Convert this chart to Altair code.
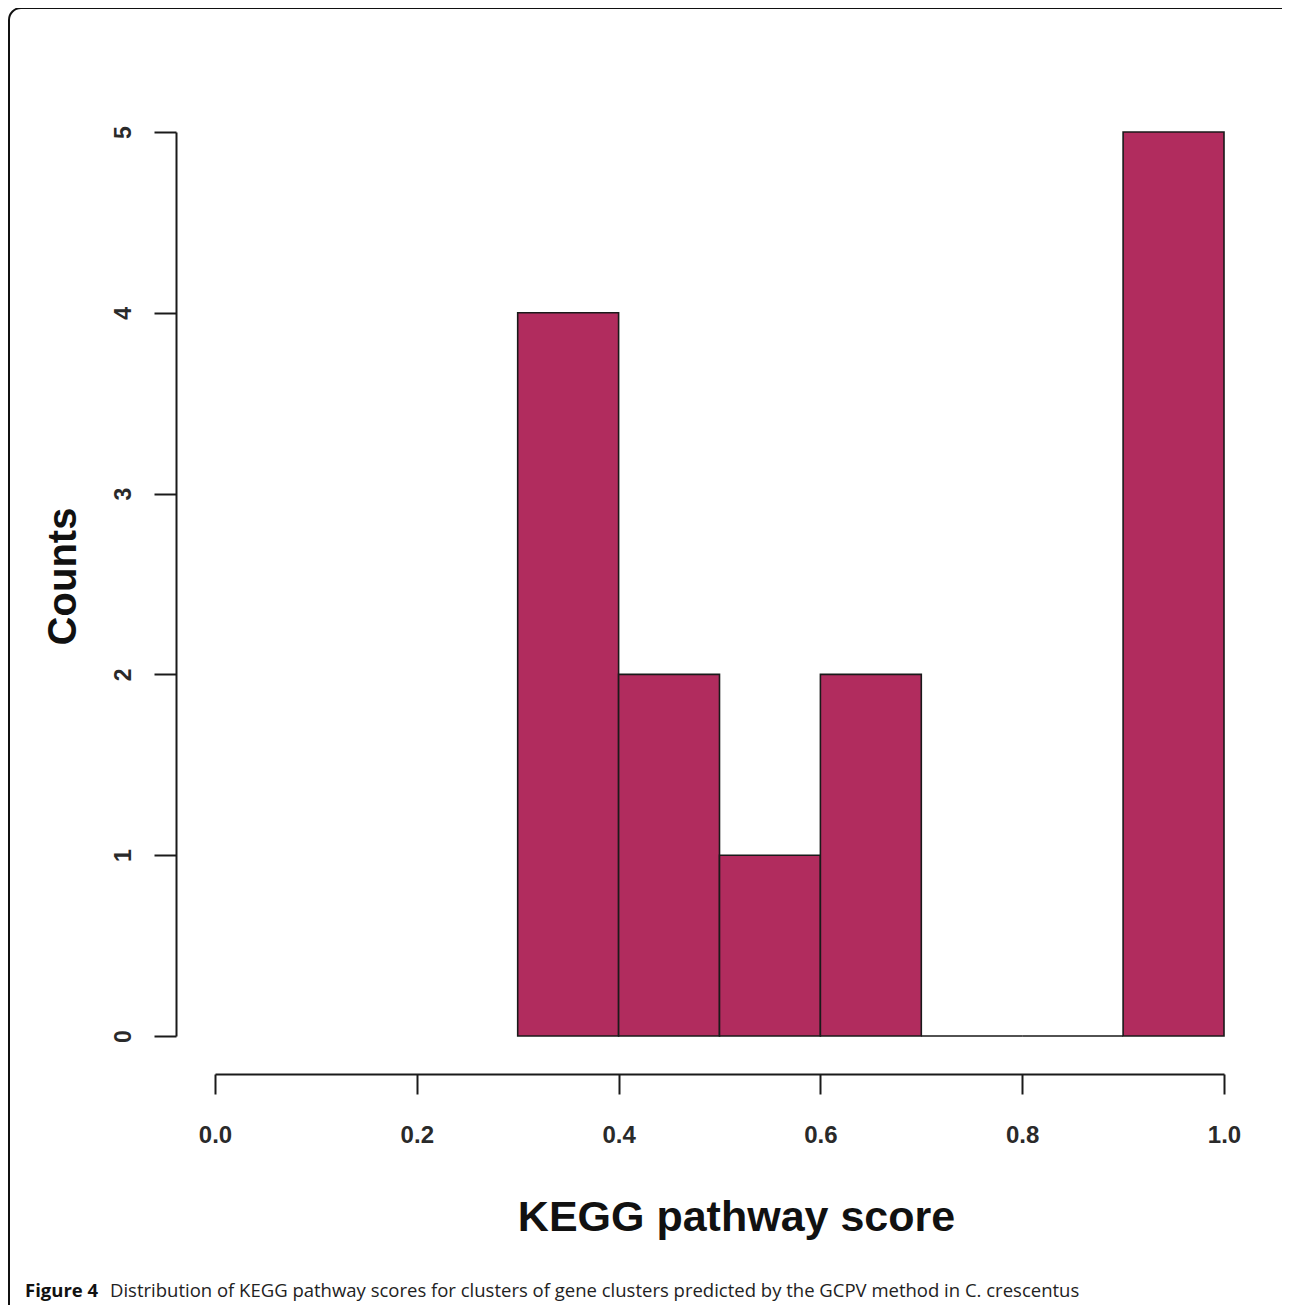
import altair as alt
import pandas as pd

# Histogram data (KEGG pathway score bins)
bin_start = [0.3, 0.4, 0.5, 0.6, 0.7, 0.8, 0.9]
bin_end = [0.4, 0.5, 0.6, 0.7, 0.8, 0.9, 1.0]
counts = [4, 2, 1, 2, 0, 0, 5]

x_ticks = [0.0, 0.2, 0.4, 0.6, 0.8, 1.0]
y_ticks = [0, 1, 2, 3, 4, 5]

caption_bold = "Figure 4"
caption_text = ("Distribution of KEGG pathway scores for clusters of gene clusters "
                "predicted by the GCPV method in C. crescentus")

df = pd.DataFrame({"start": bin_start, "end": bin_end, "count": counts})

W, H = 1009, 904
# total svg: 1274 x 1297 (fits inside the 1290x1313 window with 8px margins)
PAD = {"left": 207, "top": 124, "right": 58, "bottom": 269}

xscale = alt.Scale(domain=[0, 1], nice=False, zero=False)
yscale = alt.Scale(domain=[0, 5], nice=False)

bars = alt.Chart(df).mark_rect(
    fill="#B12C5E", stroke="#1a1a1a", strokeWidth=1.6
).encode(
    x=alt.X("start:Q", scale=xscale, axis=alt.Axis(
        values=x_ticks, format=".1f", title="KEGG pathway score",
        offset=38, tickSize=20, tickWidth=2, domainWidth=2,
        domainColor="#1a1a1a", tickColor="#1a1a1a",
        labelFont="Liberation Sans", labelFontWeight="bold", labelFontSize=24,
        labelColor="#2a2a2a", labelPadding=29, labelBaseline="top",
        labelFlush=False, labelOverlap=False, grid=False,
        titleFont="Liberation Sans", titleFontWeight="bold", titleFontSize=43,
        titleColor="#111111", titleX=521, titleY=156, titleBaseline="alphabetic",
        titleAlign="center", titleAnchor="start",
    )),
    x2="end:Q",
    y=alt.Y("count:Q", scale=yscale, axis=alt.Axis(
        values=y_ticks, format="d", title="Counts",
        offset=39, tickSize=22, tickWidth=2, domainWidth=2,
        domainColor="#1a1a1a", tickColor="#1a1a1a",
        labelFont="Liberation Sans", labelFontWeight="bold", labelFontSize=23,
        labelColor="#2a2a2a", labelPadding=24, labelAngle=270,
        labelAlign="center", labelBaseline="alphabetic",
        labelFlush=False, labelOverlap=False, grid=False,
        titleFont="Liberation Sans", titleFontWeight="bold", titleFontSize=40,
        titleColor="#111111", titleAngle=270, titleX=-101, titleY=444,
        titleAlign="center", titleBaseline="alphabetic", titleAnchor="start",
    )),
    y2=alt.Y2(datum=0),
)

one = alt.Data(values=[{}])

# rounded page frame; right and bottom edges run past the picture edge
frame = alt.Chart(one).mark_rect(
    fill="transparent", stroke="#111111", strokeWidth=2, cornerRadius=12
).encode(
    x=alt.value(-206), x2=alt.value(1078),
    y=alt.value(-124), y2=alt.value(1184),
)

cap_bold = alt.Chart(one).mark_text(
    text=caption_bold, font="Open Sans", fontWeight="bold", fontSize=18.5,
    align="left", baseline="middle", color="#111111"
).encode(x=alt.value(-190), y=alt.value(1159))

cap_rest = alt.Chart(one).mark_text(
    text=caption_text, font="Open Sans", fontSize=18.5,
    align="left", baseline="middle", color="#222222"
).encode(x=alt.value(-105), y=alt.value(1159))

chart = alt.layer(bars, frame, cap_bold, cap_rest).properties(
    width=W, height=H, padding=PAD,
    autosize=alt.AutoSizeParams(type="none"),
).configure_view(stroke=None)

chart.save("out.html", embed_options={"renderer": "svg", "actions": False})
